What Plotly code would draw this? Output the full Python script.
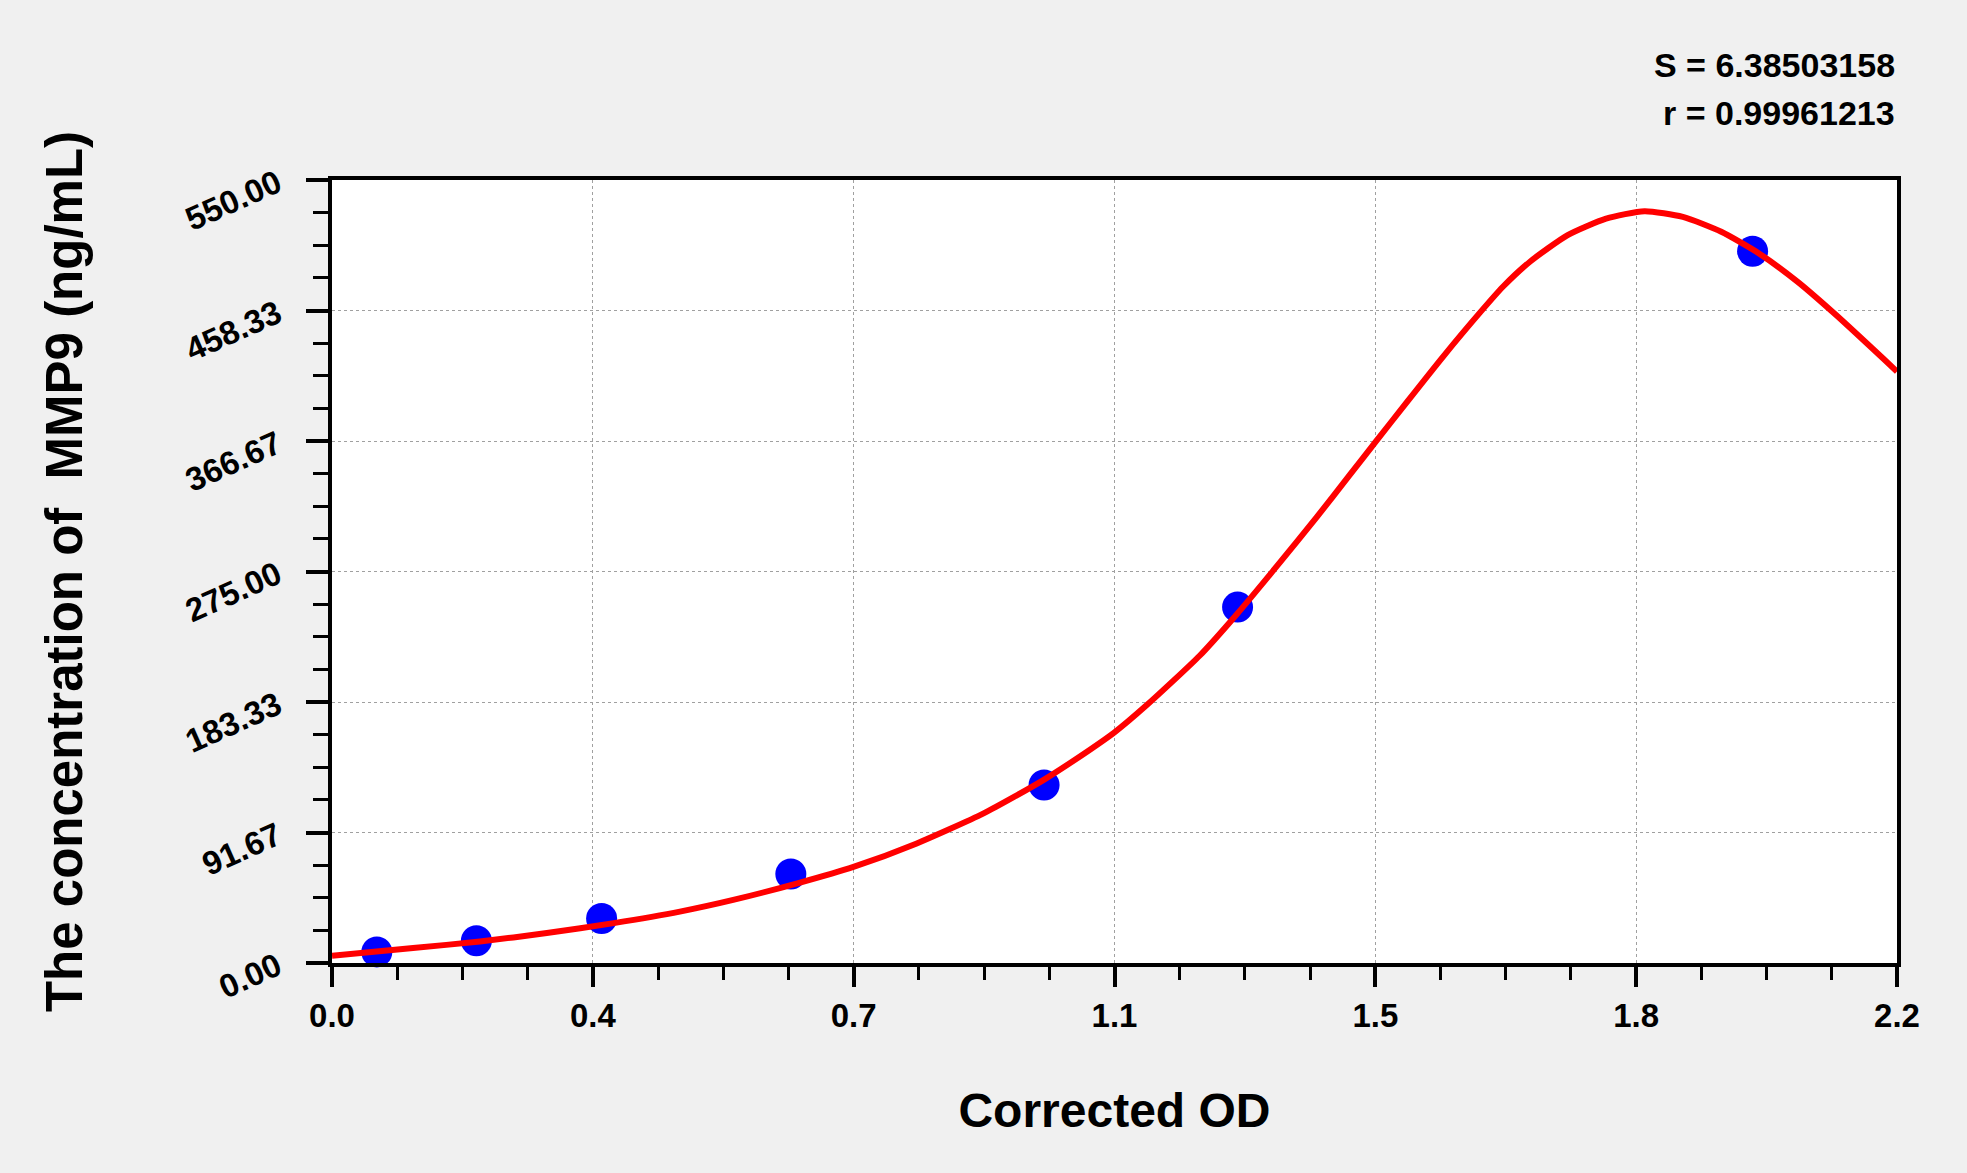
import plotly.graph_objects as go

# Standard points (Corrected OD vs concentration)
std_od = [0.063, 0.203, 0.379, 0.645, 1.001, 1.273, 1.997]
std_conc = [7.8, 15.6, 31.3, 62.5, 125.0, 250.0, 500.0]

# Fitted curve
curve_od = [0.000, 0.114, 0.208, 0.302, 0.396, 0.489, 0.564, 0.658, 0.733, 0.822,
            0.916, 1.000, 1.066, 1.100, 1.145, 1.220, 1.272, 1.332, 1.384,
            1.431, 1.467, 1.511, 1.562, 1.614, 1.646, 1.684, 1.737, 1.791, 1.845,
            1.899, 1.953, 2.006, 2.060, 2.114, 2.200]
curve_conc = [5.1, 10.5, 15.1, 21.0, 28.0, 36.1, 44.3, 56.5, 67.5, 84.0,
              105.1, 128.5, 150.0, 162.0, 181.0, 216.0, 245.0, 281.0, 313.0,
              343.0, 366.0, 394.0, 426.0, 457.0, 475.0, 492.6, 511.3, 522.9, 528.1,
              524.1, 513.6, 498.4, 478.6, 455.3, 415.5]

x_tick_vals = [0.0, 0.36667, 0.73333, 1.1, 1.46667, 1.83333, 2.2]
x_tick_text = ["0.0", "0.4", "0.7", "1.1", "1.5", "1.8", "2.2"]
y_tick_vals = [0.0, 91.667, 183.333, 275.0, 366.667, 458.333, 550.0]
y_tick_text = ["0.00", "91.67", "183.33", "275.00", "366.67", "458.33", "550.00"]

stat_s = "S = 6.38503158"
stat_r = "r = 0.99961213"

FONT = "Liberation Sans, Arial, sans-serif"

fig = go.Figure()
fig.add_trace(go.Scatter(
    x=std_od, y=std_conc, mode="markers",
    marker=dict(color="#0000ff", size=31, line=dict(width=0)),
    showlegend=False, cliponaxis=False,
))
fig.add_trace(go.Scatter(
    x=curve_od, y=curve_conc, mode="lines",
    line=dict(color="#ff0000", width=6, shape="spline", smoothing=0.6),
    showlegend=False,
))

axis_common = dict(
    showline=True, linecolor="black", linewidth=4, mirror=True,
    ticks="outside", tickcolor="black", tickwidth=4,
    showgrid=True, gridcolor="#a0a0a0", gridwidth=1, griddash="3px,3px",
    zeroline=False,
    tickfont=dict(family=FONT, size=33, color="black", weight="bold"),
)

fig.update_xaxes(
    **axis_common,
    range=[0, 2.2],
    tickmode="array", tickvals=x_tick_vals, ticktext=x_tick_text,
    ticklen=20,
    minor=dict(tick0=0, dtick=0.0916667, ticks="outside", ticklen=13,
               tickwidth=3, tickcolor="black", showgrid=False),
    title=dict(text="Corrected OD", standoff=62,
               font=dict(family=FONT, size=48, color="black", weight="bold")),
)
fig.update_yaxes(
    **axis_common,
    range=[0, 550],
    tickmode="array", tickvals=y_tick_vals, ticktext=y_tick_text,
    ticklen=22, tickangle=-24, ticklabelstandoff=22,
    minor=dict(tick0=0, dtick=22.91667, ticks="outside", ticklen=15,
               tickwidth=3, tickcolor="black", showgrid=False),
    title=dict(text="The concentration of  MMP9 (ng/mL)", standoff=82,
               font=dict(family=FONT, size=51, color="black", weight="bold")),
)

fig.add_annotation(text=stat_s, xref="paper", yref="paper", x=1.0, y=1.147,
                   xanchor="right", yanchor="middle", showarrow=False,
                   font=dict(family=FONT, size=34, color="black", weight="bold"))
fig.add_annotation(text=stat_r, xref="paper", yref="paper", x=1.0, y=1.086,
                   xanchor="right", yanchor="middle", showarrow=False,
                   font=dict(family=FONT, size=34, color="black", weight="bold"))

fig.update_layout(
    width=1967, height=1173, autosize=False,
    margin=dict(l=332, r=70, t=180, b=210, autoexpand=False),
    paper_bgcolor="#f0f0f0", plot_bgcolor="white",
)

fig.write_html(
    "out.html",
    config={"displayModeBar": False},
    post_script="document.body.style.margin='0';document.body.style.background='#f0f0f0';",
)
